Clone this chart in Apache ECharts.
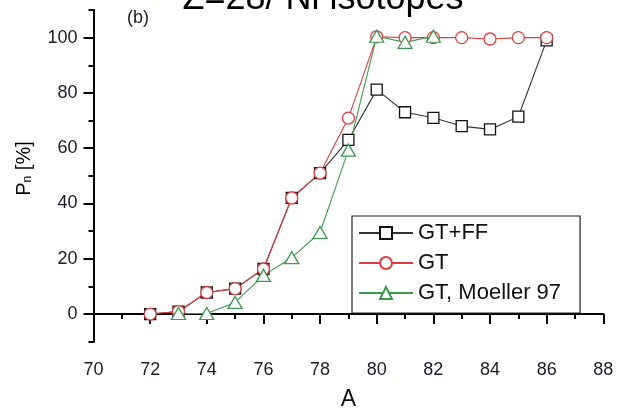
<!DOCTYPE html>
<html>
<head>
<meta charset="utf-8">
<script src="https://cdn.jsdelivr.net/npm/echarts@6/dist/echarts.min.js"></script>
<style>
html,body{margin:0;padding:0;background:#fff;}
#chart{width:618px;height:413px;}
</style>
</head>
<body>
<div id="chart"></div>
<script>
// ---- data ----
const massA = [72, 73, 74, 75, 76, 77, 78, 79, 80, 81, 82, 83, 84, 85, 86];
const gtff  = [0, 0.9, 7.8, 9.2, 16.3, 42, 51, 63, 81.2, 73, 71, 68, 66.8, 71.4, 99];
const gt    = [0, 0.9, 7.8, 9.2, 16.3, 42, 51, 70.9, 100.3, 100, 100, 100, 99.5, 100, 100];
const moellerA = [73, 74, 75, 76, 77, 78, 79, 80, 81, 82];
const moeller  = [0.2, 0.2, 4.2, 14, 20.4, 29.5, 59.3, 100.5, 98.3, 100.5];
const seriesNames = ['GT+FF', 'GT', 'GT, Moeller 97'];
const yMajorTicks = [0, 20, 40, 60, 80, 100];
const titleText = 'Z=28/ Ni isotopes';
const panelLabel = '(b)';
const xName = 'A';

const FONT = '"Liberation Sans", Arial, Helvetica, sans-serif';
const pairs = (xs, ys) => xs.map((x, i) => [x, ys[i]]);

const chart = echarts.init(document.getElementById('chart'), null, {renderer: 'canvas'});
const axisLineStyle = {color: '#000', width: 2};

chart.setOption({
  animation: false,
  backgroundColor: '#fff',
  grid: {left: 93.5, right: 14.7, top: 10, bottom: 71.3, containLabel: false, outerBoundsMode: 'none'},
  xAxis: {
    type: 'value', min: 70, max: 88, interval: 2,
    name: xName, nameLocation: 'middle', nameGap: 46,
    nameTextStyle: {fontFamily: FONT, fontSize: 23, color: '#111'},
    axisLine: {show: true, lineStyle: axisLineStyle},
    axisTick: {show: true, length: 10, lineStyle: axisLineStyle},
    minorTick: {show: true, splitNumber: 2, length: 5, lineStyle: axisLineStyle},
    axisLabel: {fontFamily: FONT, fontSize: 18, color: '#1a1a2a', margin: 19},
    splitLine: {show: false}, minorSplitLine: {show: false}
  },
  yAxis: [{
    type: 'value', min: -10, max: 110, interval: 10,
    axisLine: {show: true, lineStyle: axisLineStyle},
    axisTick: {show: true, length: 5, lineStyle: axisLineStyle},
    axisLabel: {
      fontFamily: FONT, fontSize: 18, color: '#1a1a2a', margin: 16,
      formatter: v => (yMajorTicks.indexOf(v) >= 0 ? String(v) : '')
    },
    splitLine: {show: false}
  }, {
    type: 'value', min: -10, max: 110, interval: 10, position: 'left',
    axisLine: {show: true, lineStyle: axisLineStyle},
    axisTick: {show: true, length: 10, lineStyle: axisLineStyle, customValues: yMajorTicks},
    axisLabel: {show: false},
    splitLine: {show: false}
  }],
  legend: {
    orient: 'vertical', left: 352, top: 216,
    padding: [6, 19, 9, 6],
    borderColor: '#222', borderWidth: 1.2,
    itemWidth: 54, itemHeight: 15, itemGap: 8,
    textStyle: {fontFamily: FONT, fontSize: 22, color: '#111'},
    data: seriesNames
  },
  graphic: [
    {type: 'text', x: 323, y: -0.5, silent: true,
     style: {text: titleText, font: '36px ' + FONT, fill: '#000', align: 'center', verticalAlign: 'middle'}},
    {type: 'text', x: 127, y: 9, silent: true,
     style: {text: panelLabel, font: '18px ' + FONT, fill: '#1a1a2a', align: 'left', verticalAlign: 'top'}},
    {type: 'text', x: 23, y: 168.5, rotation: Math.PI / 2, silent: true,
     style: {
       text: '{p|P}{s|n}{p| [%]}',
       align: 'center', verticalAlign: 'middle',
       rich: {
         p: {fontFamily: FONT, fontSize: 20, color: '#1a1a2a', lineHeight: 22, verticalAlign: 'bottom'},
         s: {fontFamily: FONT, fontSize: 12, color: '#1a1a2a', lineHeight: 13, verticalAlign: 'bottom'}
       }
     }}
  ],
  series: [{
    name: seriesNames[0], type: 'line', data: pairs(massA, gtff),
    symbol: 'rect', symbolSize: 11,
    itemStyle: {color: '#fff', borderColor: '#111', borderWidth: 1.3},
    lineStyle: {color: '#333', width: 1.1}
  }, {
    name: seriesNames[1], type: 'line', data: pairs(massA, gt),
    symbol: 'circle', symbolSize: 12,
    itemStyle: {color: '#fff', borderColor: '#e23c3f', borderWidth: 1.3},
    lineStyle: {color: '#e03a3e', width: 1.1}
  }, {
    name: seriesNames[2], type: 'line', data: pairs(moellerA, moeller),
    symbol: 'triangle', symbolSize: [14, 12],
    itemStyle: {color: '#fff', borderColor: '#3c9a50', borderWidth: 1.3},
    lineStyle: {color: '#3c9a50', width: 1.1}
  }]
});
</script>
</body>
</html>
